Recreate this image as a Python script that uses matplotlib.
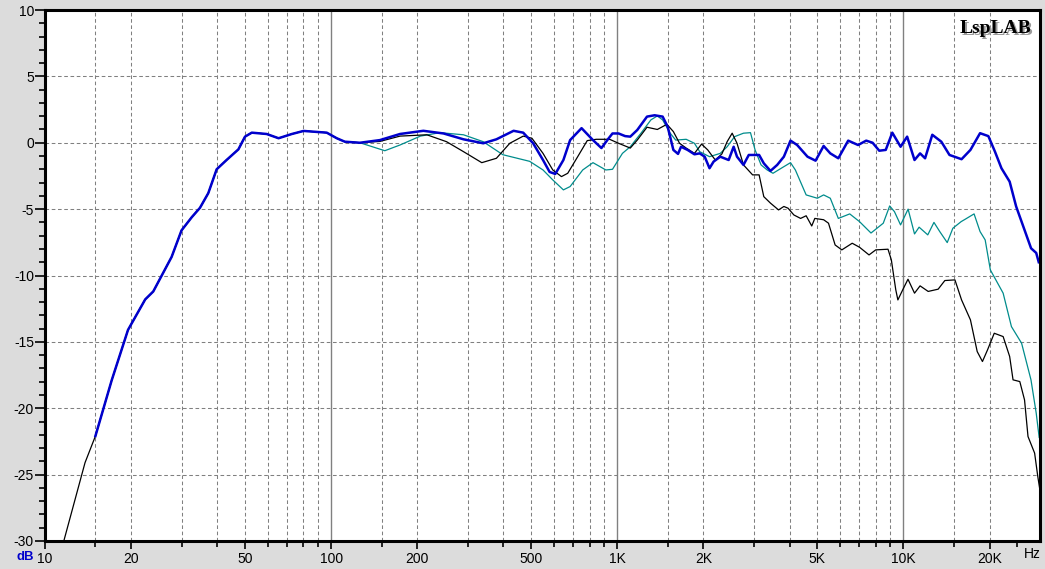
import numpy as np
import matplotlib
matplotlib.use("Agg")
import matplotlib.pyplot as plt

plt.rcParams["font.family"] = ["Liberation Sans", "DejaVu Sans"]

# ---- measured response (Hz, dB) ----
# shared low end, all three curves lie on top of each other here
f_base = [15.0, 17.1, 19.5, 22.4, 23.9, 27.7, 30.0, 32.6, 34.8, 37.2, 39.8,
          43.1, 47.4, 50.0, 52.8, 59.5, 65.5, 72.9, 80.1, 96.5, 104.6, 111.6, 126]
db_base = [-22.1, -17.9, -14.1, -11.8, -11.2, -8.6, -6.6, -5.6, -4.9, -3.8, -2.0,
           -1.3, -0.5, 0.46, 0.76, 0.66, 0.34, 0.66, 0.89, 0.76, 0.34, 0.08, 0.0]

# black curve continues below 15 Hz
f_sub = [11.5, 13.8]
db_sub = [-30.4, -24.1]

# on-axis (blue)
f_on = [148, 174, 210, 247, 290, 340, 378, 434, 469, 508, 550, 580, 607, 648,
        684, 750, 822, 880, 930, 962, 1010, 1065, 1110, 1174, 1270, 1350, 1440,
        1500, 1570, 1630, 1670, 1760, 1860, 1940, 2020, 2100, 2170, 2290, 2450,
        2550, 2620, 2760, 2880, 3130, 3250, 3430, 3620, 3820, 4030, 4250, 4620,
        4930, 5260, 5550, 5920, 6410, 6940, 7410, 7800, 8230, 8670, 9140, 9770,
        10300, 10930, 11430, 11900, 12610, 13560, 14480, 15960, 17140, 18520,
        19800, 20880, 22000, 23500, 24760, 26490, 27920, 29100, 29700]
db_on = [0.2, 0.66, 0.9, 0.7, 0.26, -0.04, 0.26, 0.9, 0.76, -0.04, -1.3, -2.2,
         -2.35, -1.3, 0.2, 1.1, 0.2, -0.4, 0.3, 0.7, 0.7, 0.5, 0.46, 0.96, 1.97,
         2.07, 1.97, 1.2, -0.54, -0.84, -0.3, -0.54, -0.87, -0.8, -1.05, -1.92,
         -1.42, -1.05, -1.3, -0.3, -1.05, -1.67, -0.92, -0.92, -1.55, -2.12, -1.67,
         -1.05, 0.16, -0.17, -1.05, -1.35, -0.24, -0.8, -1.17, 0.16, -0.17, 0.16,
         0.0, -0.6, -0.54, 0.76, -0.3, 0.46, -1.3, -0.8, -1.17, 0.6, 0.08, -0.92,
         -1.24, -0.54, 0.72, 0.5, -0.67, -1.92, -2.93, -4.8, -6.57, -7.95, -8.3,
         -9.0]

# off-axis, teal
f_30 = [154, 174, 205, 240, 290, 340, 398, 494, 550, 595, 648, 684, 757, 822,
        870, 912, 962, 1042, 1110, 1210, 1310, 1380, 1440, 1530, 1600, 1740,
        1860, 1940, 2100, 2290, 2420, 2570, 2760, 2920, 3030, 3180, 3340, 3500,
        3740, 4030, 4190, 4570, 5000, 5260, 5550, 5920, 6490, 7020, 7700, 8500,
        8950, 9300, 9770, 10380, 10930, 11340, 12160, 12780, 13390, 14220,
        14880, 15910, 16440, 17650, 18520, 19300, 20120, 22300, 23840, 25870,
        27900, 29100, 29800]
db_30 = [-0.6, -0.17, 0.5, 0.76, 0.6, 0.08, -0.9, -1.4, -2.05, -2.8, -3.55,
         -3.3, -2.05, -1.5, -1.8, -2.05, -2.0, -0.8, -0.3, 0.72, 1.72, 2.02,
         1.72, 0.72, 0.2, 0.26, -0.04, -0.67, -1.05, -0.8, -0.3, 0.46, 0.72,
         0.76, -0.54, -1.67, -2.05, -2.3, -1.92, -1.5, -2.05, -3.93, -4.18,
         -3.93, -4.18, -5.7, -5.36, -5.94, -6.8, -6.06, -4.76, -5.19, -6.19,
         -5.0, -6.87, -6.36, -6.94, -6.0, -6.69, -7.52, -6.44, -5.94, -5.76,
         -5.36, -6.69, -7.32, -9.58, -11.33, -13.85, -15.1, -17.86, -20.37, -22.2]

# off-axis, black
f_45 = [148, 174, 216, 253, 290, 336, 378, 421, 469, 503, 550, 595, 638, 671,
        727, 785, 844, 940, 1010, 1110, 1174, 1270, 1380, 1490, 1570, 1650,
        1740, 1860, 1970, 2070, 2200, 2320, 2420, 2520, 2620, 2760, 2970, 3130,
        3250, 3430, 3660, 3820, 3950, 4140, 4370, 4570, 4780, 4900, 5260, 5470,
        5770, 6090, 6620, 7020, 7580, 8000, 8830, 9070, 9400, 9560, 9940, 10370,
        10930, 11430, 12200, 13220, 13950, 15130, 15960, 17140, 18100, 18880,
        19670, 20760, 22300, 23500, 24150, 25500, 26490, 27240, 28730, 29470,
        29900]
db_45 = [0.1, 0.5, 0.6, 0.08, -0.67, -1.5, -1.17, -0.04, 0.5, 0.34, -0.8,
         -2.05, -2.55, -2.3, -1.05, 0.16, 0.26, 0.26, -0.04, -0.4, 0.2, 1.17,
         1.0, 1.39, 0.84, -0.04, -0.4, -0.8, -0.1, -0.54, -1.3, -0.84, 0.08,
         0.72, -0.04, -1.67, -2.42, -2.42, -4.06, -4.55, -5.06, -4.8, -4.93,
         -5.44, -5.7, -5.5, -6.27, -5.7, -5.8, -6.06, -7.7, -8.07, -7.57, -7.87,
         -8.45, -8.07, -8.02, -8.82, -11.08, -11.84, -11.08, -10.28, -11.33,
         -10.78, -11.2, -11.03, -10.38, -10.33, -11.84, -13.34, -15.73, -16.48,
         -15.6, -14.35, -14.6, -16.1, -17.86, -17.99, -19.37, -22.13, -23.38,
         -25.14, -26.0]

x_major = [10, 20, 50, 100, 200, 500, 1000, 2000, 5000, 10000, 20000]
x_labels = ["10", "20", "50", "100", "200", "500", "1K", "2K", "5K", "10K", "20K"]
y_major = [10, 5, 0, -5, -10, -15, -20, -25, -30]

# ---- build curves ----
f_blue = np.r_[f_base, f_on]
d_blue = np.r_[db_base, db_on]
f_teal = np.r_[f_base, f_30]
d_teal = np.r_[db_base, db_30]
f_blk = np.r_[f_sub, f_base, f_45]
d_blk = np.r_[db_sub, db_base, db_45]

# ---- draw ----
W, H = 1045, 569
fig = plt.figure(figsize=(W / 100, H / 100), dpi=100, facecolor="#dcdcdc")
ax = fig.add_axes([45 / W, 1 - 541 / H, 995 / W, 531 / H])
ax.set_facecolor("white")
ax.set_xscale("log")
ax.set_xlim(10, 30000)
ax.set_ylim(-30, 10)

# grid: dashed at 1.5..9 of each decade, solid at decades
GRID = "#808080"
for dec in (10, 100, 1000, 10000):
    for m in (1.5, 2, 3, 4, 5, 6, 7, 8, 9):
        f = m * dec
        if f < 25000:
            ax.axvline(f, color=GRID, lw=0.75, ls=(0, (3.5, 2.5)), zorder=1)
for f in (100, 1000, 10000):
    ax.axvline(f, color=GRID, lw=1.0, zorder=1)
for y in (5, 0, -5, -10, -15, -20, -25):
    ax.axhline(y, color=GRID, lw=0.75, ls=(0, (3.5, 2.5)), zorder=1)

ax.plot(f_teal, d_teal, color="#008c8c", lw=0.9, zorder=3)
ax.plot(f_blk, d_blk, color="black", lw=0.9, zorder=4)
ax.plot(f_blue, d_blue, color="#0000cc", lw=1.8, zorder=5)

# ticks
minor_x = [m * d for d in (10, 100, 1000, 10000) for m in (1.5, 3, 4, 6, 7, 8, 9)]
minor_x = [f for f in minor_x if f < 30000] + [25000]
ax.set_xticks(x_major)
ax.set_xticklabels(x_labels)
ax.set_xticks(minor_x, minor=True)
ax.set_xticklabels([], minor=True)
ax.set_yticks(y_major)
ax.set_yticklabels([str(v) for v in y_major])
ax.set_yticks(np.arange(-30, 11, 1), minor=True)
ax.tick_params(axis="both", which="both", direction="out", color="black",
               width=1.2, labelsize=10, labelcolor="black")
ax.tick_params(axis="y", which="major", length=7, pad=1)
ax.tick_params(axis="y", which="minor", length=4)
ax.tick_params(axis="x", which="major", length=6, pad=2)
ax.tick_params(axis="x", which="minor", length=4)

for s in ax.spines.values():
    s.set_linewidth(2.2)
    s.set_color("black")
    s.set_zorder(6)

fig.text(25 / W, 1 - 557 / H, "dB", color="#0000cc", fontsize=9.5,
         fontweight="bold", ha="center", va="center")
fig.text(1032 / W, 1 - 554 / H, "Hz", color="black", fontsize=10,
         ha="center", va="center")

# logo with shadow
fig.text(962 / W, 1 - 35 / H, "LspLAB", family=["Liberation Serif", "DejaVu Serif"],
         fontsize=14, fontweight="bold", color="#9a9a9a", ha="left", va="baseline")
fig.text(960 / W, 1 - 33 / H, "LspLAB", family=["Liberation Serif", "DejaVu Serif"],
         fontsize=14, fontweight="bold", color="black", ha="left", va="baseline")

fig.savefig("out.png", dpi=100, facecolor=fig.get_facecolor())
